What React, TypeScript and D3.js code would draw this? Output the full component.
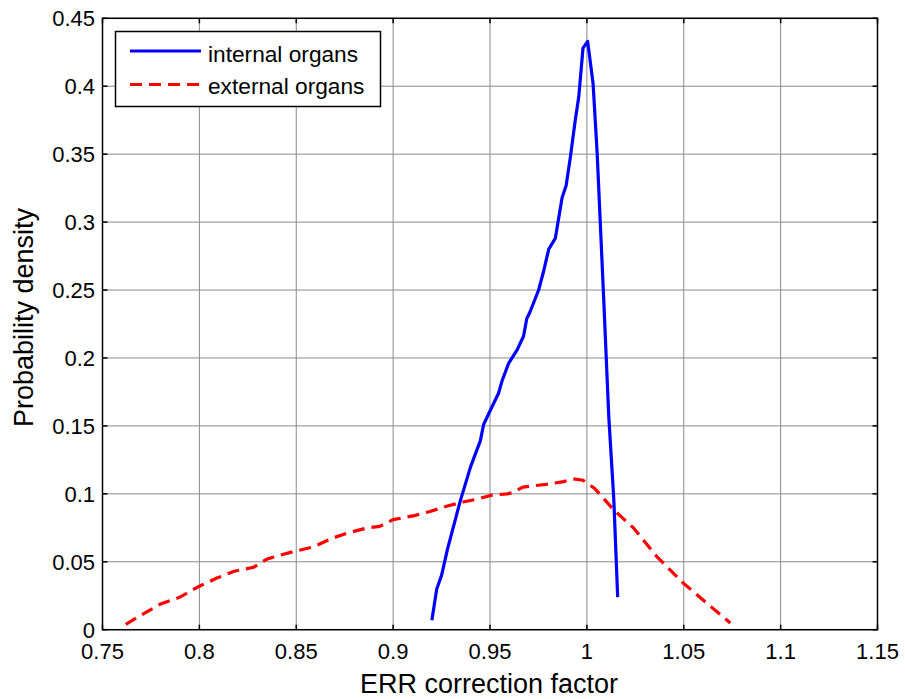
import React from "react";
import * as d3 from "d3";

const xTicks = [0.75, 0.8, 0.85, 0.9, 0.95, 1, 1.05, 1.1, 1.15];
const yTicks = [0, 0.05, 0.1, 0.15, 0.2, 0.25, 0.3, 0.35, 0.4, 0.45];
const xTickLabels = ["0.75", "0.8", "0.85", "0.9", "0.95", "1", "1.05", "1.1", "1.15"];
const yTickLabels = ["0", "0.05", "0.1", "0.15", "0.2", "0.25", "0.3", "0.35", "0.4", "0.45"];

const internalX = [0.92, 0.9225, 0.925, 0.928, 0.9347, 0.94, 0.945, 0.9467, 0.95, 0.9544, 0.9562, 0.9596, 0.964, 0.9673, 0.969, 0.9707, 0.9751, 0.9777, 0.9803, 0.9837, 0.9872, 0.9893, 0.9915, 0.994, 0.9958, 0.998, 1.0004, 1.0032, 1.0053, 1.0087, 1.0113, 1.0139, 1.0159];
const internalY = [0.007, 0.03, 0.04, 0.059, 0.095, 0.12, 0.139, 0.151, 0.161, 0.174, 0.183, 0.196, 0.206, 0.216, 0.229, 0.234, 0.25, 0.264, 0.28, 0.288, 0.318, 0.327, 0.348, 0.375, 0.392, 0.428, 0.433, 0.402, 0.351, 0.243, 0.157, 0.096, 0.024];

const externalX = [0.762, 0.769, 0.78, 0.79, 0.8, 0.809, 0.818, 0.828, 0.835, 0.842, 0.85, 0.859, 0.868, 0.876, 0.887, 0.893, 0.9, 0.911, 0.919, 0.928, 0.936, 0.943, 0.951, 0.959, 0.962, 0.967, 0.979, 0.988, 0.993, 0.998, 1.004, 1.014, 1.024, 1.036, 1.05, 1.064, 1.074];
const externalY = [0.004, 0.01, 0.019, 0.024, 0.032, 0.038, 0.043, 0.046, 0.052, 0.055, 0.058, 0.061, 0.067, 0.071, 0.075, 0.076, 0.081, 0.084, 0.087, 0.091, 0.094, 0.096, 0.099, 0.1, 0.101, 0.105, 0.107, 0.109, 0.111, 0.11, 0.104, 0.088, 0.075, 0.054, 0.034, 0.017, 0.005];

const seriesNames = ["internal organs", "external organs"];

export default function App() {
  const W = 905, H = 699;
  const left = 102.5, right = 877.5, top = 18.3, bottom = 629.7;
  const x = d3.scaleLinear().domain([0.75, 1.15]).range([left, right]);
  const y = d3.scaleLinear().domain([0, 0.45]).range([bottom, top]);
  const line = d3.line<[number, number]>().x(d => x(d[0])).y(d => y(d[1]));
  const internal = internalX.map((v, i) => [v, internalY[i]] as [number, number]);
  const external = externalX.map((v, i) => [v, externalY[i]] as [number, number]);
  const font = "'Liberation Sans', Arial, sans-serif";
  const tl = 5;
  return (
    <svg width={W} height={H} style={{ position: "absolute", left: 0, top: 0, background: "#fff" }}>
      <rect x={0} y={0} width={W} height={H} fill="#fff" />
      {/* grid */}
      {xTicks.map((t, i) => (
        <line key={"gx" + i} x1={x(t)} x2={x(t)} y1={top} y2={bottom} stroke="#8a8a8a" strokeWidth={1} />
      ))}
      {yTicks.map((t, i) => (
        <line key={"gy" + i} x1={left} x2={right} y1={y(t)} y2={y(t)} stroke="#8a8a8a" strokeWidth={1} />
      ))}
      {/* ticks */}
      {xTicks.map((t, i) => (
        <g key={"tx" + i}>
          <line x1={x(t)} x2={x(t)} y1={bottom} y2={bottom - tl} stroke="#000" strokeWidth={1.5} />
          <line x1={x(t)} x2={x(t)} y1={top} y2={top + tl} stroke="#000" strokeWidth={1.5} />
          <text x={x(t)} y={658.5} textAnchor="middle" fontFamily={font} fontSize={22} fill="#000">{xTickLabels[i]}</text>
        </g>
      ))}
      {yTicks.map((t, i) => (
        <g key={"ty" + i}>
          <line x1={left} x2={left + tl} y1={y(t)} y2={y(t)} stroke="#000" strokeWidth={1.5} />
          <line x1={right} x2={right - tl} y1={y(t)} y2={y(t)} stroke="#000" strokeWidth={1.5} />
          <text x={left - 7.5} y={y(t) + 8} textAnchor="end" fontFamily={font} fontSize={22} fill="#000">{yTickLabels[i]}</text>
        </g>
      ))}
      {/* data */}
      <path d={line(external) || ""} fill="none" stroke="#ff0000" strokeWidth={3.2} strokeDasharray="12 7" />
      <path d={line(internal) || ""} fill="none" stroke="#0000ff" strokeWidth={3.2} strokeLinejoin="round" />
      {/* frame */}
      <rect x={left} y={top} width={right - left} height={bottom - top} fill="none" stroke="#000" strokeWidth={1.5} />
      {/* legend */}
      <rect x={115.5} y={31.5} width={265} height={75} fill="#fff" stroke="#000" strokeWidth={1.5} />
      <line x1={130} x2={201} y1={51} y2={51} stroke="#0000ff" strokeWidth={3.2} />
      <text x={208} y={61.5} fontFamily={font} fontSize={22.7} fill="#000">{seriesNames[0]}</text>
      <line x1={130} x2={201} y1={84.5} y2={84.5} stroke="#ff0000" strokeWidth={3.2} strokeDasharray="12 7" />
      <text x={208} y={93.5} fontFamily={font} fontSize={22.7} fill="#000">{seriesNames[1]}</text>
      {/* axis labels */}
      <text x={489} y={693} textAnchor="middle" fontFamily={font} fontSize={27} fill="#000">ERR correction factor</text>
      <text transform={`translate(33, 317.5) rotate(-90)`} textAnchor="middle" fontFamily={font} fontSize={27} fill="#000">Probability density</text>
    </svg>
  );
}
